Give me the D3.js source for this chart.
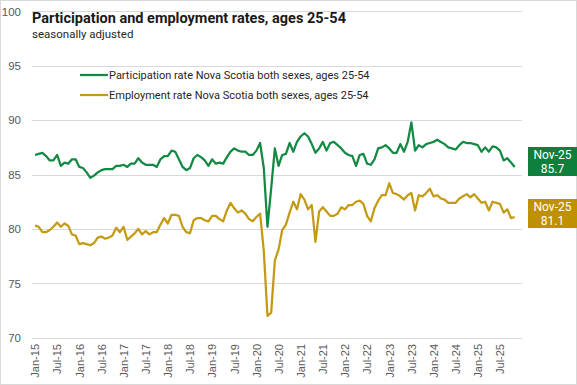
<!DOCTYPE html>
<html>
<head>
<meta charset="utf-8">
<script src="https://cdn.jsdelivr.net/npm/d3@7"></script>
<style>
  html, body { margin: 0; padding: 0; background: #fff; }
  svg { display: block; }
</style>
</head>
<body>
<script>
const startMonth = "2015-01";
const tickLabels = ["Jan-15","Jul-15","Jan-16","Jul-16","Jan-17","Jul-17","Jan-18","Jul-18","Jan-19","Jul-19","Jan-20","Jul-20","Jan-21","Jul-21","Jan-22","Jul-22","Jan-23","Jul-23","Jan-24","Jul-24","Jan-25","Jul-25"];
const yTicks = [70, 75, 80, 85, 90, 95, 100];

const participation = [
  86.8,86.9,87.0,86.7,86.3,86.3,86.8,85.8,86.1,86.0,86.4,86.4,
  85.7,85.6,85.2,84.7,84.9,85.2,85.4,85.5,85.5,85.5,85.8,85.8,
  85.9,85.7,86.0,86.0,86.5,86.1,85.9,85.9,85.9,85.7,86.4,86.7,
  86.7,87.2,87.1,86.4,85.7,85.4,85.6,86.5,86.8,86.6,86.3,85.8,
  86.4,86.0,86.1,86.0,86.6,87.1,87.4,87.2,87.1,87.1,86.8,86.8,
  87.2,87.9,85.6,80.2,83.7,87.4,85.8,86.8,86.9,87.9,87.1,88.0,
  88.5,88.8,88.5,87.8,87.0,87.4,88.0,87.2,87.9,88.0,87.7,87.4,
  87.0,86.8,86.7,85.8,86.8,86.9,86.0,85.9,86.4,87.4,87.5,87.7,
  87.4,87.0,87.0,87.8,87.1,88.0,89.8,87.2,87.7,87.5,87.8,87.9,
  88.0,88.2,88.0,87.8,87.5,87.4,87.3,87.7,88.0,87.9,87.9,87.8,
  87.7,87.1,87.5,87.1,87.6,87.5,87.2,86.3,86.5,86.1,85.7
];
const employment = [
  80.3,80.2,79.7,79.7,79.9,80.2,80.6,80.2,80.5,80.3,79.5,79.4,
  78.6,78.7,78.6,78.5,78.7,79.2,79.3,79.1,79.2,79.4,80.1,79.7,
  80.2,79.0,79.3,79.6,80.0,79.5,79.8,79.5,79.7,79.7,80.4,81.0,
  80.5,81.3,81.3,81.2,80.2,79.7,79.6,80.8,81.0,81.0,80.8,80.7,
  81.2,81.2,80.9,80.7,81.7,82.4,81.9,81.5,81.7,81.4,80.9,80.7,
  81.1,81.4,78.0,72.0,72.3,77.1,78.1,79.9,80.4,81.5,82.5,81.8,
  83.2,82.7,81.8,82.2,78.8,81.6,82.0,81.6,81.2,81.2,81.4,82.0,
  81.8,82.2,82.2,82.5,82.6,82.3,81.2,80.7,81.9,82.6,83.1,83.1,
  84.2,83.3,83.2,83.0,82.7,83.1,83.3,81.7,83.1,83.0,83.3,83.7,
  83.0,83.1,82.8,82.7,82.4,82.4,82.4,82.8,83.0,83.2,82.9,83.2,
  82.8,82.4,82.5,81.7,82.5,82.4,82.3,81.5,81.8,81.0,81.1
];
const seriesNames = [
  "Participation rate Nova Scotia both sexes, ages 25-54",
  "Employment rate Nova Scotia both sexes, ages 25-54"
];
const colors = ["#138A43", "#C49A13"];
const boxColors = ["#0F7F3D", "#BF9000"];

// categories (months)
const fmt = d3.timeFormat("%b-%y");
const start = d3.timeParse("%Y-%m")(startMonth);
const categories = d3.range(participation.length).map(i => fmt(d3.timeMonth.offset(start, i)));

const W = 577, H = 385;
const svg = d3.select("body").append("svg").attr("width", W).attr("height", H);

svg.append("rect").attr("x", 0.5).attr("y", 0.5).attr("width", W - 1).attr("height", H - 1)
  .attr("fill", "#fff").attr("stroke", "#d9d9d9");

const x = d3.scalePoint().domain(categories).range([35, 514.7]);
const y = d3.scaleLinear().domain([70, 100]).range([337.7, 11.4]);
const gridX0 = 32, gridX1 = 522;

// gridlines
svg.append("g").selectAll("line").data(yTicks).join("line")
  .attr("x1", gridX0).attr("x2", gridX1)
  .attr("y1", d => Math.round(y(d)) + 0.5).attr("y2", d => Math.round(y(d)) + 0.5)
  .attr("stroke", "#d9d9d9").attr("stroke-width", 1);

// y axis labels
const yAxis = d3.axisLeft(y).tickValues(yTicks).tickSize(0).tickPadding(0);
const gy = svg.append("g").attr("transform", "translate(21,0)").call(yAxis);
gy.select(".domain").remove();
gy.selectAll("text").attr("font-family", "Liberation Sans, Arial, sans-serif")
  .attr("font-size", 11.5).attr("fill", "#595959");

// x axis labels
const xAxis = d3.axisBottom(x).tickValues(tickLabels).tickSize(0).tickPadding(0);
const gx = svg.append("g").attr("transform", "translate(0,344)").call(xAxis);
gx.select(".domain").remove();
gx.selectAll("text")
  .attr("font-family", "Liberation Sans, Arial, sans-serif")
  .attr("font-size", 11).attr("fill", "#595959")
  .attr("transform", "rotate(-90)")
  .attr("text-anchor", "end")
  .attr("x", 0).attr("y", 0).attr("dy", "0.35em");

// lines
const seriesData = [participation, employment];
const line = d3.line().x((d, i) => x(categories[i])).y(d => y(d));
svg.append("g").selectAll("path").data(seriesData).join("path")
  .attr("d", d => line(d))
  .attr("fill", "none")
  .attr("stroke", (d, i) => colors[i])
  .attr("stroke-width", 2.25)
  .attr("stroke-linejoin", "round");

// title
svg.append("text").attr("x", 32).attr("y", 23)
  .attr("font-family", "Roboto, 'Noto Sans', sans-serif").attr("font-weight", "bold")
  .attr("font-size", 14.5).attr("fill", "#1a1a1a")
  .text("Participation and employment rates, ages 25-54");
svg.append("text").attr("x", 32).attr("y", 38)
  .attr("font-family", "Roboto, 'Noto Sans', sans-serif")
  .attr("font-size", 11.5).attr("fill", "#262626")
  .text("seasonally adjusted");

// legend
const legY = [75, 95];
const leg = svg.append("g").selectAll("g").data(seriesNames).join("g");
leg.append("line").attr("x1", 80).attr("x2", 108)
  .attr("y1", (d, i) => legY[i]).attr("y2", (d, i) => legY[i])
  .attr("stroke", (d, i) => colors[i]).attr("stroke-width", 2.25);
leg.append("text").attr("x", 109).attr("y", (d, i) => legY[i]).attr("dy", "0.35em")
  .attr("font-family", "Roboto, 'Noto Sans', sans-serif").attr("font-size", 11)
  .attr("fill", "#262626").text(d => d);

// end labels
const last = participation.length - 1;
const boxTops = [147, 199];
const endVals = [participation[last], employment[last]];
const boxes = svg.append("g").selectAll("g").data(endVals).join("g");
boxes.append("rect").attr("x", 528).attr("y", (d, i) => boxTops[i])
  .attr("width", 49).attr("height", 29).attr("fill", (d, i) => boxColors[i]);
boxes.append("text").attr("x", 552.5).attr("y", (d, i) => boxTops[i] + 8)
  .attr("dy", "0.35em").attr("text-anchor", "middle")
  .attr("font-family", "Roboto, 'Noto Sans', sans-serif").attr("font-size", 12).attr("fill", "#fff")
  .text(categories[last]);
boxes.append("text").attr("x", 552.5).attr("y", (d, i) => boxTops[i] + 22)
  .attr("dy", "0.35em").attr("text-anchor", "middle")
  .attr("font-family", "Roboto, 'Noto Sans', sans-serif").attr("font-size", 12).attr("fill", "#fff")
  .text(d => d3.format(".1f")(d));
</script>
</body>
</html>
